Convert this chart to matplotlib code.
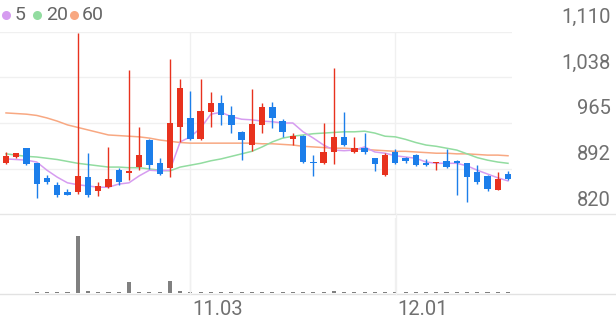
import matplotlib
matplotlib.use('Agg')
import matplotlib.pyplot as plt
from matplotlib.lines import Line2D

plt.rcParams['font.family'] = ['Roboto', 'DejaVu Sans']

# daily candles
opens  = [901, 911, 925, 901, 878, 867, 855, 855, 879, 857,
          863, 890, 886, 895, 938, 901, 894, 959, 973, 940,
          982, 997, 978, 951, 930, 962, 990, 968, 940, 944,
          903, 901, 919, 943, 919, 925, 909, 882, 919, 909,
          914, 901, 901, 905, 905, 901, 887, 881, 859, 884]
highs  = [919, 918, 926, 902, 882, 871, 860, 1108, 917, 871,
          927, 894, 1049, 959, 940, 909, 1067, 1035, 1016, 1035,
          1014, 1009, 992, 952, 1019, 997, 998, 971, 949, 946,
          914, 965, 1052, 982, 943, 949, 910, 917, 924, 911,
          915, 908, 903, 924, 906, 902, 898, 882, 887, 889]
lows   = [900, 910, 899, 846, 868, 847, 850, 852, 847, 849,
          862, 867, 874, 890, 892, 882, 879, 935, 938, 938,
          959, 962, 949, 906, 921, 949, 957, 943, 930, 902,
          881, 900, 900, 929, 918, 916, 889, 881, 900, 901,
          897, 897, 890, 894, 851, 840, 868, 857, 858, 875]
closes = [913, 917, 900, 868, 871, 851, 851, 881, 851, 865,
          876, 871, 889, 914, 898, 884, 965, 1021, 940, 984,
          997, 978, 962, 938, 963, 990, 973, 951, 944, 903,
          901, 919, 943, 930, 925, 919, 900, 914, 901, 905,
          898, 898, 903, 895, 901, 879, 871, 860, 876, 876]
volumes = [0, 0, 0, 80, 80, 80, 80, 5700, 250, 100,
           100, 100, 1100, 100, 100, 100, 1200, 200, 100, 100,
           100, 100, 100, 100, 150, 80, 80, 80, 80, 80,
           80, 80, 250, 80, 80, 80, 80, 80, 80, 80,
           60, 60, 60, 60, 60, 60, 60, 60, 60, 60]

ma5  = [908, 907, 906, 903, 890, 879, 870, 867, 865, 863,
        863, 868, 870, 881, 890, 889, 890, 935, 943, 957,
        979, 982, 975, 971, 970, 968, 967, 965, 965, 951,
        941, 930, 922, 921, 922, 927, 919, 917, 913, 911,
        909, 903, 901, 901, 901, 897, 890, 884, 878, 873]
ma20 = [916, 914, 912, 911, 909, 907, 904, 901, 899, 897,
        895, 895, 894, 894, 892, 890, 889, 895, 898, 901,
        905, 908, 912, 916, 920, 927, 935, 941, 944, 946,
        948, 949, 950, 951, 951, 952, 949, 944, 943, 939,
        934, 930, 928, 925, 922, 916, 910, 906, 903, 901]
ma60 = [981, 980, 979, 977, 973, 968, 962, 958, 954, 950,
        946, 945, 944, 943, 941, 938, 936, 934, 933, 933,
        933, 933, 933, 933, 933, 932, 932, 931, 930, 928,
        927, 926, 925, 925, 924, 923, 922, 921, 920, 920,
        919, 918, 917, 917, 916, 916, 915, 914, 914, 913]

yTicks = [820, 892.5, 965, 1037.5, 1110]
xTickPos = [18, 38]
xTickLabels = ['11.03', '12.01']

RED = '#E8321E'
BLUE = '#1C7EEA'
C5, C20, C60 = '#D69CF0', '#92DCA0', '#F8A882'
GRID = '#F0F0F0'

W, H = 616, 321
fig = plt.figure(figsize=(W / 100, H / 100), dpi=100)

# price panel
ax = fig.add_axes([0, 106.7 / H, 512 / W, 182.6 / H])
ax.set_xlim(-0.586, 49.39)
ax.set_ylim(820, 1110)
ax.axis('off')

for t in yTicks[1:]:
    ax.axhline(t, color=GRID, lw=1, zorder=0)
for p in xTickPos:
    ax.axvline(p, color=GRID, lw=1, zorder=0)

idx = list(range(len(opens)))
ax.plot(idx, ma60, color=C60, lw=1.1, zorder=2)
ax.plot(idx, ma20, color=C20, lw=1.1, zorder=2)
ax.plot(idx, ma5, color=C5, lw=1.1, zorder=2)

for i in idx:
    o, h, l, c = opens[i], highs[i], lows[i], closes[i]
    col = RED if c >= o else BLUE
    ax.vlines(i, l, h, color=col, lw=1.0, zorder=3)
    bot = min(o, c)
    hgt = max(abs(c - o), 1.2)
    ax.bar(i, hgt, bottom=bot, width=0.62, color=col, zorder=4, linewidth=0)

# volume panel
axv = fig.add_axes([0, 28 / H, 512 / W, 75 / H])
axv.set_xlim(-0.586, 49.39)
axv.set_ylim(0, max(volumes) * 75 / 57)
axv.axis('off')
for p in xTickPos:
    axv.axvline(p, color=GRID, lw=1, zorder=0)
axv.bar(idx, volumes, width=0.4, color='#808080', zorder=3, linewidth=0)

# separator lines
fig.add_artist(Line2D([0, 1], [1 - 214.3 / H] * 2, color='#E6E6E6', lw=1))
fig.add_artist(Line2D([0, 1], [1 - 293.5 / H] * 2, color='#E2E2E2', lw=1))
fig.add_artist(Line2D([190 / W, 190 / W], [1 - 293.5 / H, 1 - 214.3 / H], color=GRID, lw=1))
fig.add_artist(Line2D([396 / W, 396 / W], [1 - 293.5 / H, 1 - 214.3 / H], color=GRID, lw=1))

# right-side price labels
for t in yTicks:
    ypix = 214.3 - (t - 820) * 182.6 / 290
    txt = f'{round(t):,}'
    fig.text(611 / W, 1 - (ypix - 14) / H, txt, fontsize=14.5, color='#707070',
             ha='right', va='center')

# x labels
for p, lab in zip(xTickPos, xTickLabels):
    xpix = 6 + 10.245 * p
    fig.text((xpix + 2) / W, 1 - 309.5 / H, lab, fontsize=14.5, color='#707070',
             ha='left', va='center')

# legend
legendItems = [('5', C5, 6, 15), ('20', C20, 37, 46), ('60', C60, 74, 82)]
for lab, col, dx, tx in legendItems:
    fig.add_artist(Line2D([dx / W], [1 - 15 / H], marker='o', markersize=6.5,
                          color=col, markeredgewidth=0))
    fig.text(tx / W, 1 - 15 / H, lab, fontsize=14, color='#666666', ha='left', va='center')

plt.savefig('out.png', dpi=100)
